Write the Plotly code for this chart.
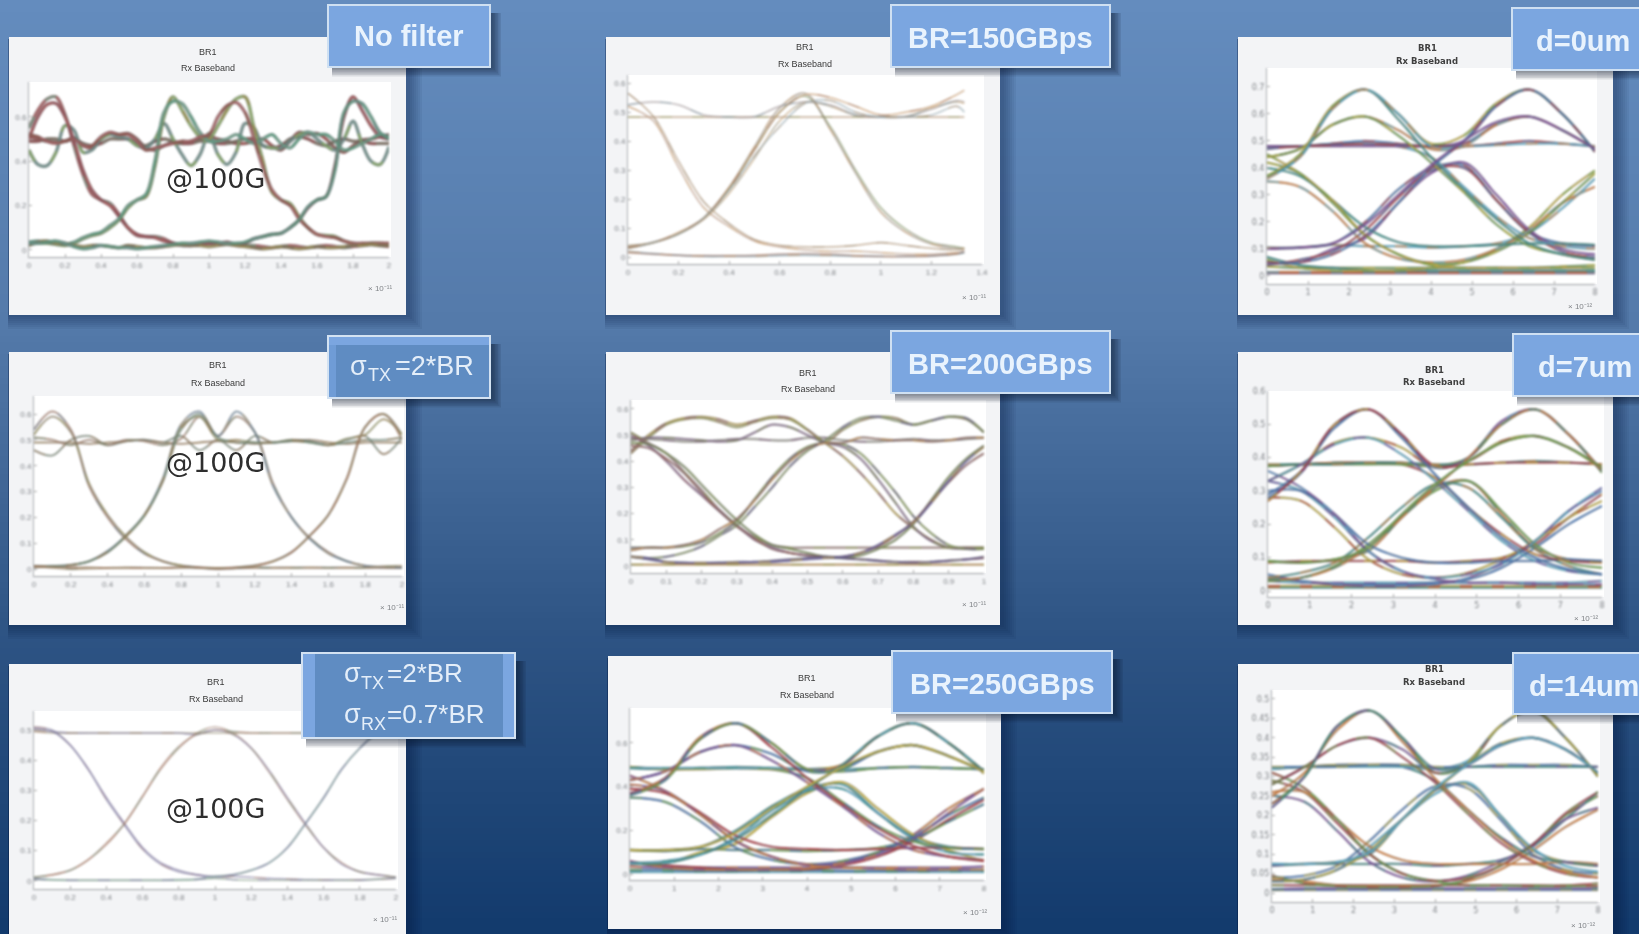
import plotly.graph_objects as go

W, H = 1639, 934

# ---------- tick labels ----------
X_2 = [0, .2, .4, .6, .8, 1, 1.2, 1.4, 1.6, 1.8, 2]
X_2T = ["0", "0.2", "0.4", "0.6", "0.8", "1", "1.2", "1.4", "1.6", "1.8", "2"]
X_14 = [0, .2, .4, .6, .8, 1, 1.2, 1.4]
X_14T = ["0", "0.2", "0.4", "0.6", "0.8", "1", "1.2", "1.4"]
X_1 = [0, .1, .2, .3, .4, .5, .6, .7, .8, .9, 1]
X_1T = ["0", "0.1", "0.2", "0.3", "0.4", "0.5", "0.6", "0.7", "0.8", "0.9", "1"]
X_8 = [0, 1, 2, 3, 4, 5, 6, 7, 8]
X_8T = ["0", "1", "2", "3", "4", "5", "6", "7", "8"]
Y_246 = [0, .2, .4, .6]
Y_246T = ["0", "0.2", "0.4", "0.6"]
Y_06 = [0, .1, .2, .3, .4, .5, .6]
Y_06T = ["0", "0.1", "0.2", "0.3", "0.4", "0.5", "0.6"]
Y_05 = [0, .1, .2, .3, .4, .5]
Y_05T = ["0", "0.1", "0.2", "0.3", "0.4", "0.5"]
Y_07 = [0, .1, .2, .3, .4, .5, .6, .7]
Y_07T = ["0", "0.1", "0.2", "0.3", "0.4", "0.5", "0.6", "0.7"]
Y_9 = [0, .05, .1, .15, .2, .25, .3, .35, .4, .45, .5]
Y_9T = ["0", "0.05", "0.1", "0.15", "0.2", "0.25", "0.3", "0.35", "0.4", "0.45", "0.5"]

# ---------- panel 1: no filter (time axis in 1e-11 s) ----------
t1 = [i * .05 for i in range(41)]
p1_100 = [.55,.63,.68,.69,.61,.47,.34,.25,.225,.21,.16,.10,.065,.06,.06,.05,.03,.02,.02,.025,.03,.03,.03,.02,.02,.02,.015,.01,.015,.02,.015,.01,.015,.02,.015,.01,.015,.02,.025,.02,.015]
p1_101 = [.50,.60,.655,.66,.60,.49,.36,.27,.225,.20,.15,.10,.07,.06,.055,.04,.03,.025,.02,.025,.03,.03,.035,.025,.03,.05,.06,.07,.075,.10,.135,.19,.225,.24,.38,.60,.69,.63,.56,.51,.50]
p1_010 = [.03,.03,.03,.025,.02,.03,.05,.065,.075,.10,.135,.19,.225,.24,.38,.60,.69,.63,.56,.51,.50,.56,.63,.68,.69,.55,.40,.26,.225,.21,.15,.10,.07,.065,.06,.04,.03,.025,.03,.03,.025]
p1_011 = [.035,.04,.035,.03,.025,.035,.055,.07,.08,.11,.14,.20,.225,.25,.40,.62,.67,.66,.60,.53,.49,.49,.50,.52,.50,.48,.50,.52,.48,.46,.50,.53,.52,.52,.49,.45,.46,.48,.50,.52,.51]
p1_110 = [.52,.51,.49,.48,.49,.50,.47,.47,.51,.53,.52,.52,.49,.45,.46,.47,.48,.49,.49,.51,.52,.60,.65,.665,.62,.50,.37,.27,.225,.20,.14,.10,.07,.06,.055,.04,.03,.03,.03,.03,.03]
p1_111 = [.51,.50,.49,.485,.49,.505,.47,.46,.50,.525,.52,.525,.50,.46,.45,.47,.485,.48,.49,.50,.51,.50,.49,.48,.48,.49,.50,.47,.45,.49,.53,.52,.525,.50,.46,.44,.47,.495,.50,.51,.52]
p1_w1 = [.45,.385,.38,.44,.56,.54,.44,.45,.50,.52,.51,.50,.47,.46,.50,.57,.50,.43,.38,.43,.525,.43,.385,.44,.57,.55,.47,.46,.46,.49,.52,.53,.50,.47,.45,.50,.58,.48,.40,.385,.465]
p1_w2 = [.49,.49,.50,.50,.49,.50,.48,.47,.48,.50,.50,.50,.48,.47,.49,.50,.49,.48,.48,.49,.49,.48,.48,.49,.50,.50,.47,.46,.47,.50,.51,.50,.48,.47,.49,.50,.49,.49,.48,.48,.48]
p1_000 = [.02,.035,.04,.03,.03,.02,.015,.02,.02,.015,.01,.02,.015,.01,.01,.015,.02,.025,.02,.02,.015,.02,.025,.02,.015,.01,.005,.01,.015,.01,.005,.01,.015,.01,.01,.015,.02,.02,.025,.02,.02]
p1_001 = [.03,.03,.035,.04,.03,.015,.005,.01,.02,.015,.01,.01,.005,.01,.015,.02,.025,.03,.03,.035,.04,.035,.03,.03,.035,.05,.06,.07,.075,.10,.135,.195,.225,.24,.36,.62,.67,.66,.60,.53,.50]
p1_curves = [p1_111, p1_w2, p1_w1, p1_100, p1_101, p1_010, p1_011, p1_110, p1_000, p1_001]
p1_colors = ["#8a5a50", "#7a6a5a", "#6f8f88", "#a85a5a", "#9a4f55", "#8aa860", "#6f9f88", "#a86060", "#9a8a50", "#5f9a80"]

# ---------- panel 2: sigma_TX = 2*BR ----------
t2 = [i * .1 for i in range(21)]
p2_100 = [.54,.61,.54,.32,.20,.115,.06,.03,.012,.005,.0,.003,.005,.005,.006,.005,.005,.006,.005,.005,.006]
p2_101 = [.52,.59,.53,.33,.21,.125,.065,.03,.014,.006,.002,.006,.014,.03,.065,.13,.21,.35,.55,.60,.52]
p2_110 = [.51,.50,.48,.50,.48,.50,.495,.48,.505,.59,.515,.59,.53,.33,.20,.12,.065,.03,.012,.006,.004]
p2_111 = [.49,.49,.49,.485,.49,.495,.50,.49,.485,.49,.495,.49,.485,.49,.495,.50,.49,.485,.49,.49,.49]
p2_w1 = [.46,.44,.50,.515,.48,.495,.50,.49,.515,.46,.50,.46,.515,.49,.50,.495,.48,.50,.515,.445,.51]
p2_010 = [.006,.01,.016,.03,.07,.13,.21,.35,.56,.61,.515,.61,.53,.32,.20,.115,.06,.03,.012,.008,.006]
p2_011 = [.008,.01,.015,.03,.065,.125,.205,.34,.55,.59,.50,.50,.49,.49,.50,.49,.48,.505,.52,.58,.52]
p2_001 = [.012,.012,.015,.03,.065,.13,.21,.34,.54,.60,.51,.49,.49,.49,.495,.49,.48,.49,.50,.50,.51]
p2_000 = [.01,.005,.0,.002,.004,.006,.005,.004,.006,.005,.004,.005,.006,.005,.004,.006,.005,.004,.005,.01,.012]
p2_001b = [.01,.008,.006,.006,.004,.004,.004,.004,.006,.006,.004,.006,.012,.03,.065,.13,.21,.35,.55,.60,.50]
p2_curves = [p2_111, p2_w1, p2_100, p2_101, p2_110, p2_010, p2_011, p2_001, p2_000, p2_001b]
p2_colors = ["#a07a50", "#7a8a70", "#b07a60", "#a08a60", "#b08060", "#6f8aa0", "#a0a060", "#7a9a80", "#c0a070", "#b08a60"]

# ---------- panel 3: sigma_TX = 2*BR, sigma_RX = 0.7*BR ----------
t3 = [i * .1 for i in range(21)]
p3_100 = [.51,.50,.45,.37,.27,.185,.105,.055,.03,.02,.012,.015,.012,.008,.006,.004,.003,.003,.003,.005,.008]
p3_101 = [.505,.495,.45,.37,.275,.19,.11,.06,.035,.02,.015,.02,.035,.06,.11,.19,.275,.37,.44,.49,.50]
p3_010 = [.012,.02,.035,.07,.12,.19,.28,.37,.44,.49,.51,.49,.44,.36,.27,.185,.11,.06,.03,.02,.012]
p3_011 = [.012,.02,.035,.07,.125,.19,.28,.375,.445,.485,.50,.495,.49,.49,.49,.49,.49,.49,.49,.49,.49]
p3_110 = [.50,.495,.49,.49,.49,.49,.49,.49,.49,.485,.50,.485,.44,.365,.275,.19,.11,.055,.03,.02,.012]
p3_111 = [.495,.49,.49,.49,.49,.49,.49,.49,.49,.49,.49,.49,.49,.49,.49,.49,.49,.49,.49,.49,.49]
p3_000 = [.005,.003,.002,.002,.002,.002,.002,.002,.002,.004,.008,.004,.002,.002,.002,.002,.002,.002,.002,.006,.01]
p3_001 = [.008,.004,.002,.002,.002,.002,.002,.002,.004,.006,.015,.02,.035,.06,.11,.19,.275,.37,.44,.49,.50]
p3_curves = [p3_111, p3_100, p3_101, p3_010, p3_011, p3_110, p3_000, p3_001]
p3_colors = ["#a89a70", "#8a80b0", "#8a80b0", "#c08a70", "#c08a70", "#8a80b0", "#90b090", "#80b0a0"]

# ---------- panel 4: BR = 150 GBps ----------
t4 = [0, .1, .2, .3, .4, .5, .6, .7, .8, .9, 1.0, 1.1, 1.2, 1.3, 1.33]
p4_a = [.565,.485,.33,.19,.115,.06,.04,.035,.035,.04,.05,.04,.03,.025,.025]
p4_b = [.52,.47,.31,.17,.105,.055,.035,.025,.02,.02,.015,.01,.01,.015,.015]
p4_c = [.035,.05,.08,.135,.235,.37,.50,.555,.45,.30,.17,.095,.05,.035,.03]
p4_d = [.03,.05,.08,.135,.24,.38,.515,.565,.44,.29,.155,.085,.045,.03,.03]
p4_e = [.04,.05,.08,.13,.22,.34,.47,.535,.52,.49,.483,.485,.515,.535,.53]
p4_f = [.525,.535,.525,.49,.483,.484,.52,.535,.525,.49,.483,.485,.51,.54,.535]
p4_g = [.483,.483,.483,.483,.483,.483,.483,.483,.483,.483,.483,.483,.483,.483,.483]
p4_h = [.035,.05,.085,.135,.24,.37,.50,.56,.55,.52,.49,.50,.52,.56,.575]
p4_i = [.03,.05,.08,.135,.23,.35,.45,.53,.54,.50,.483,.483,.49,.52,.50]
p4_j = [.02,.012,.006,.002,.002,.002,.005,.006,.005,.003,.002,.002,.004,.01,.015]
p4_k = [.015,.01,.006,.005,.005,.006,.01,.012,.01,.005,.002,.002,.004,.012,.02]
p4_curves = [p4_g, p4_a, p4_b, p4_c, p4_d, p4_e, p4_f, p4_h, p4_i, p4_j, p4_k]
p4_colors = ["#c09060", "#c09a70", "#d0a080", "#8aa060", "#a08a70", "#e0b070", "#b0a0a0", "#e0a060", "#a0b8c0", "#7aa0b0", "#a07060"]

# ---------- panel 5: BR = 200 GBps ----------
t5 = [i * .05 for i in range(21)]
p5_a = [.44,.50,.545,.565,.57,.56,.54,.555,.57,.565,.52,.47,.42,.355,.28,.20,.145,.10,.07,.07,.07]
p5_b = [.43,.49,.54,.56,.565,.55,.53,.55,.565,.56,.52,.475,.52,.555,.57,.565,.54,.555,.57,.56,.51]
p5_c = [.48,.49,.49,.485,.48,.475,.48,.51,.54,.53,.50,.47,.455,.41,.33,.24,.15,.095,.07,.065,.065]
p5_d = [.49,.485,.48,.475,.475,.48,.485,.485,.48,.48,.49,.49,.48,.475,.475,.48,.485,.48,.48,.485,.49]
p5_e = [.50,.46,.40,.33,.27,.21,.155,.10,.07,.05,.04,.035,.03,.025,.02,.015,.015,.015,.02,.025,.03]
p5_f = [.51,.47,.43,.36,.29,.215,.155,.11,.08,.07,.07,.07,.07,.07,.07,.07,.07,.07,.07,.07,.07]
p5_g = [.47,.465,.43,.38,.31,.24,.175,.12,.08,.065,.05,.035,.03,.04,.065,.10,.16,.25,.34,.41,.46]
p5_h = [.46,.45,.41,.355,.28,.21,.15,.105,.065,.05,.04,.035,.035,.05,.075,.115,.17,.245,.32,.385,.43]
p5_i = [.07,.07,.07,.075,.09,.125,.17,.255,.34,.41,.455,.47,.465,.43,.36,.28,.19,.125,.08,.065,.065]
p5_j = [.035,.03,.035,.05,.075,.115,.155,.225,.30,.38,.44,.48,.53,.565,.57,.555,.54,.555,.57,.565,.51]
p5_k = [.06,.07,.07,.08,.10,.14,.18,.25,.33,.40,.45,.47,.47,.49,.485,.48,.48,.475,.48,.49,.49]
p5_l = [.035,.025,.015,.012,.01,.012,.015,.015,.02,.025,.03,.035,.03,.025,.02,.015,.012,.015,.02,.025,.035]
p5_m = [.035,.03,.015,.012,.012,.012,.012,.015,.015,.02,.025,.03,.035,.05,.08,.12,.165,.24,.325,.40,.455]
p5_n = [.005,.005,.005,.005,.005,.005,.005,.005,.005,.005,.005,.005,.005,.005,.005,.005,.005,.005,.005,.005,.005]
p5_curves = [p5_d, p5_a, p5_b, p5_c, p5_e, p5_f, p5_g, p5_h, p5_i, p5_j, p5_k, p5_l, p5_m, p5_n]
p5_colors = ["#a09a8a", "#c0a040", "#a0a050", "#8a6a8a", "#8a5a80", "#a07a70", "#7a8a50", "#a06a70", "#8aa050", "#8a9a60", "#a07060", "#6a5a90", "#6a5aa0", "#d09a50"]

# ---------- panels 6-9 share a time grid (1e-12 s) ----------
t_eye = [0, .8, 1.6, 2.4, 3.2, 4, 4.8, 5.6, 6.4, 7.2, 8]

# panel 6: BR = 250 GBps
p6_01 = [.36,.43,.62,.69,.60,.48,.47,.485,.49,.485,.48]
p6_02 = [.37,.44,.63,.69,.60,.48,.50,.63,.69,.60,.47]
p6_03 = [.37,.44,.62,.69,.58,.44,.32,.21,.13,.08,.06]
p6_04 = [.43,.47,.56,.59,.52,.42,.31,.19,.11,.08,.065]
p6_05 = [.43,.47,.56,.59,.55,.47,.48,.56,.59,.54,.47]
p6_06 = [.485,.485,.485,.485,.485,.48,.48,.485,.49,.485,.48]
p6_07 = [.49,.48,.48,.485,.48,.48,.50,.63,.69,.60,.46]
p6_08 = [.485,.48,.485,.49,.485,.48,.49,.56,.59,.54,.47]
p6_09 = [.49,.48,.485,.485,.48,.44,.33,.22,.15,.12,.115]
p6_10 = [.45,.38,.27,.15,.08,.04,.03,.025,.02,.02,.02]
p6_11 = [.39,.37,.28,.175,.125,.115,.11,.115,.12,.12,.115]
p6_12 = [.41,.38,.27,.15,.08,.045,.05,.09,.16,.28,.39]
p6_13 = [.35,.33,.24,.12,.065,.045,.06,.10,.17,.27,.35]
p6_14 = [.05,.06,.09,.17,.29,.38,.39,.28,.16,.10,.09]
p6_15 = [.05,.05,.10,.14,.26,.37,.42,.30,.18,.11,.06]
p6_16 = [.11,.11,.125,.20,.31,.39,.41,.28,.17,.125,.115]
p6_17 = [.11,.105,.115,.11,.11,.105,.11,.12,.16,.24,.32]
p6_18 = [.06,.03,.02,.02,.02,.025,.05,.10,.18,.30,.39]
p6_19 = [.05,.04,.03,.02,.02,.02,.04,.08,.15,.25,.34]
p6_20 = [.035,.03,.03,.03,.03,.03,.03,.03,.03,.03,.035]
p6_21 = [.02,.02,.015,.015,.02,.02,.015,.015,.015,.02,.02]
p6_22 = [.01,.01,.01,.01,.01,.01,.01,.01,.01,.01,.01]
p6_23 = [.05,.05,.09,.16,.27,.39,.50,.63,.69,.60,.47]
p6_24 = [.11,.11,.125,.19,.30,.40,.49,.56,.59,.54,.47]
p6_curves = [p6_22, p6_21, p6_20, p6_19, p6_18, p6_17, p6_16, p6_15, p6_14, p6_13, p6_12, p6_11, p6_10, p6_09, p6_08, p6_07, p6_06, p6_05, p6_04, p6_03, p6_02, p6_01, p6_23, p6_24]

# panel 7: d = 0 um
p7_01 = [.36,.44,.62,.69,.60,.48,.48,.485,.49,.49,.48]
p7_02 = [.37,.45,.63,.69,.60,.49,.52,.64,.69,.60,.46]
p7_03 = [.37,.44,.62,.69,.58,.44,.32,.21,.12,.08,.06]
p7_04 = [.44,.47,.56,.59,.52,.42,.31,.19,.11,.08,.06]
p7_05 = [.44,.47,.56,.59,.54,.47,.48,.56,.59,.54,.47]
p7_06 = [.47,.48,.485,.49,.485,.48,.48,.49,.50,.49,.48]
p7_07 = [.48,.48,.48,.48,.48,.48,.50,.63,.69,.60,.46]
p7_08 = [.48,.48,.49,.50,.49,.48,.49,.56,.59,.54,.47]
p7_09 = [.48,.48,.49,.49,.48,.44,.33,.22,.14,.11,.10]
p7_10 = [.45,.38,.28,.15,.08,.04,.03,.03,.03,.03,.03]
p7_11 = [.40,.37,.28,.18,.125,.11,.11,.115,.12,.12,.115]
p7_12 = [.42,.38,.27,.15,.08,.045,.05,.09,.16,.27,.38]
p7_13 = [.35,.33,.24,.12,.065,.05,.06,.10,.17,.27,.33]
p7_14 = [.04,.06,.09,.17,.29,.39,.40,.28,.16,.09,.07]
p7_15 = [.05,.05,.10,.14,.27,.38,.42,.30,.17,.10,.08]
p7_16 = [.10,.105,.12,.20,.32,.40,.41,.28,.16,.12,.11]
p7_17 = [.105,.105,.115,.11,.11,.105,.11,.12,.16,.25,.36]
p7_18 = [.06,.03,.02,.02,.02,.03,.05,.10,.18,.30,.39]
p7_19 = [.07,.04,.03,.02,.02,.02,.02,.02,.02,.02,.02]
p7_20 = [.035,.03,.03,.03,.03,.03,.03,.03,.03,.035,.04]
p7_21 = [.015,.015,.015,.015,.015,.015,.015,.015,.015,.015,.015]
p7_22 = [.01,.01,.01,.01,.01,.01,.01,.01,.01,.01,.01]
p7_23 = [.05,.05,.08,.15,.27,.40,.50,.63,.69,.60,.46]
p7_24 = [.10,.105,.12,.19,.30,.41,.50,.57,.59,.54,.47]
p7_curves = [p7_22, p7_21, p7_20, p7_19, p7_18, p7_17, p7_16, p7_15, p7_14, p7_13, p7_12, p7_11, p7_10, p7_09, p7_08, p7_07, p7_06, p7_05, p7_04, p7_03, p7_02, p7_01, p7_23, p7_24]

# panel 8: d = 7 um
p8_01 = [.27,.36,.50,.545,.47,.375,.38,.385,.385,.385,.38]
p8_02 = [.28,.355,.50,.545,.47,.37,.40,.51,.545,.47,.36]
p8_03 = [.29,.36,.49,.545,.46,.35,.25,.16,.10,.065,.05]
p8_04 = [.33,.38,.44,.46,.41,.33,.24,.15,.09,.06,.05]
p8_05 = [.33,.38,.445,.46,.43,.37,.39,.45,.465,.43,.365]
p8_06 = [.38,.38,.38,.385,.385,.38,.38,.385,.39,.385,.38]
p8_07 = [.375,.38,.38,.38,.38,.375,.40,.50,.545,.47,.355]
p8_08 = [.375,.38,.385,.385,.385,.375,.39,.445,.465,.43,.37]
p8_09 = [.375,.38,.385,.385,.38,.34,.25,.17,.11,.09,.085]
p8_10 = [.36,.31,.23,.12,.06,.035,.025,.025,.02,.02,.02]
p8_11 = [.30,.30,.23,.14,.10,.085,.085,.09,.09,.095,.09]
p8_12 = [.33,.30,.22,.12,.06,.04,.05,.08,.15,.24,.31]
p8_13 = [.28,.27,.19,.095,.05,.04,.055,.095,.15,.22,.27]
p8_14 = [.04,.055,.085,.16,.25,.32,.31,.22,.125,.075,.05]
p8_15 = [.03,.04,.075,.14,.225,.30,.33,.24,.14,.085,.07]
p8_16 = [.09,.085,.095,.12,.22,.31,.33,.23,.13,.095,.09]
p8_17 = [.085,.09,.09,.09,.09,.085,.09,.10,.14,.22,.29]
p8_18 = [.05,.03,.02,.015,.015,.02,.04,.085,.15,.24,.30]
p8_19 = [.04,.03,.02,.02,.02,.025,.035,.07,.13,.20,.255]
p8_20 = [.03,.025,.025,.025,.025,.025,.025,.025,.025,.025,.03]
p8_21 = [.015,.015,.015,.015,.015,.015,.015,.015,.015,.015,.015]
p8_22 = [.01,.01,.01,.01,.01,.01,.01,.01,.01,.01,.01]
p8_23 = [.035,.04,.07,.13,.22,.31,.40,.50,.545,.47,.36]
p8_24 = [.09,.085,.095,.13,.23,.32,.39,.445,.465,.43,.37]
p8_curves = [p8_22, p8_21, p8_20, p8_19, p8_18, p8_17, p8_16, p8_15, p8_14, p8_13, p8_12, p8_11, p8_10, p8_09, p8_08, p8_07, p8_06, p8_05, p8_04, p8_03, p8_02, p8_01, p8_23, p8_24]

# panel 9: d = 14 um
p9_01 = [.22,.30,.43,.47,.40,.32,.325,.325,.325,.325,.325]
p9_02 = [.23,.30,.43,.47,.40,.31,.33,.43,.47,.40,.30]
p9_03 = [.25,.31,.42,.47,.39,.295,.215,.14,.085,.055,.04]
p9_04 = [.28,.325,.38,.40,.35,.285,.205,.13,.08,.05,.04]
p9_05 = [.28,.325,.38,.40,.37,.31,.33,.38,.40,.37,.31]
p9_06 = [.325,.325,.325,.33,.33,.325,.325,.33,.33,.33,.325]
p9_07 = [.32,.325,.325,.325,.325,.32,.34,.43,.47,.40,.30]
p9_08 = [.32,.325,.33,.33,.33,.32,.335,.385,.40,.37,.31]
p9_09 = [.32,.325,.33,.33,.325,.29,.215,.145,.095,.08,.07]
p9_10 = [.31,.27,.19,.10,.05,.03,.02,.02,.018,.018,.018]
p9_11 = [.26,.26,.19,.12,.085,.075,.075,.075,.075,.08,.075]
p9_12 = [.29,.26,.18,.10,.05,.032,.04,.07,.125,.205,.26]
p9_13 = [.25,.235,.16,.08,.04,.03,.045,.08,.125,.19,.22]
p9_14 = [.04,.045,.07,.135,.215,.275,.27,.19,.10,.06,.05]
p9_15 = [.03,.035,.06,.12,.19,.255,.285,.20,.115,.07,.055]
p9_16 = [.075,.075,.08,.10,.19,.265,.28,.20,.11,.08,.07]
p9_17 = [.07,.075,.075,.075,.075,.07,.075,.085,.12,.19,.26]
p9_18 = [.045,.025,.018,.015,.015,.018,.035,.07,.125,.20,.25]
p9_19 = [.035,.03,.02,.018,.018,.02,.03,.06,.11,.17,.215]
p9_20 = [.02,.02,.02,.02,.02,.02,.02,.02,.02,.02,.025]
p9_21 = [.01,.012,.012,.012,.012,.012,.012,.012,.012,.012,.012]
p9_22 = [.008,.008,.008,.008,.008,.008,.008,.008,.008,.008,.008]
p9_23 = [.03,.035,.06,.11,.19,.265,.335,.43,.47,.40,.30]
p9_24 = [.075,.075,.08,.105,.19,.27,.33,.38,.40,.37,.31]
p9_curves = [p9_22, p9_21, p9_20, p9_19, p9_18, p9_17, p9_16, p9_15, p9_14, p9_13, p9_12, p9_11, p9_10, p9_09, p9_08, p9_07, p9_06, p9_05, p9_04, p9_03, p9_02, p9_01, p9_23, p9_24]

# ---------- colours ----------
PALETTE = ["#4a78b5", "#d9823f", "#c9b23c", "#80509f", "#6fa34a", "#58b0cf", "#b23c44", "#3f8f86"]
BG_Y = [0, 320, 630, 934]
BG_R = [100, 84, 46, 18]
BG_G = [140, 122, 84, 58]
BG_B = [190, 170, 132, 108]

# card, plot area and data ranges, all in page pixels
PANELS = [
    dict(card=(9, 37, 406, 315), px=(29, 389), py=(82, 257), xr=(0, 2), yr=(-.032, .757), xt=X_2, xl=X_2T, yt=Y_246, yl=Y_246T,
         t=t1, c=p1_curves, pal=p1_colors, lw=2.8, op=.8, dk=.55, title=(208, 52, 68), mult=(380, 288, "× 10⁻¹¹"), narrow=True),
    dict(card=(9, 352, 406, 625), px=(34, 402), py=(396, 576), xr=(0, 2), yr=(-.027, .67), xt=X_2, xl=X_2T, yt=Y_06, yl=Y_06T,
         t=t2, c=p2_curves, pal=p2_colors, lw=1.4, op=.65, dk=.4, title=(218, 365, 383), mult=(392, 607, "× 10⁻¹¹"), narrow=True),
    dict(card=(9, 664, 406, 940), px=(34, 396), py=(711, 889), xr=(0, 2), yr=(-.027, .563), xt=X_2, xl=X_2T, yt=Y_05, yl=Y_05T,
         t=t3, c=p3_curves, pal=p3_colors, lw=1.2, op=.6, dk=.2, title=(216, 682, 699), mult=(385, 919, "× 10⁻¹¹"), narrow=True),
    dict(card=(606, 37, 1000, 315), px=(628, 982), py=(75, 264), xr=(0, 1.4), yr=(-.024, .628), xt=X_14, xl=X_14T, yt=Y_06, yl=Y_06T,
         t=t4, c=p4_curves, pal=p4_colors, lw=1.2, op=.6, dk=.2, title=(805, 47, 64), mult=(974, 298, "× 10⁻¹¹"), narrow=True),
    dict(card=(606, 352, 1000, 625), px=(631, 984), py=(400, 573), xr=(0, 1), yr=(-.027, .634), xt=X_1, xl=X_1T, yt=Y_06, yl=Y_06T,
         t=t5, c=p5_curves, pal=p5_colors, lw=1.6, op=.7, dk=.5, title=(808, 373, 389), mult=(974, 604, "× 10⁻¹¹"), narrow=True),
    dict(card=(608, 656, 1001, 929), px=(630, 984), py=(708, 880), xr=(0, 8), yr=(-.027, .76), xt=X_8, xl=X_8T, yt=Y_246, yl=Y_246T,
         t=t_eye, c=p6_curves, pal=PALETTE, lw=1.7, op=.8, dk=.55, title=(807, 678, 695), mult=(975, 912, "× 10⁻¹²"), narrow=True),
    dict(card=(1238, 37, 1613, 315), px=(1267, 1595), py=(68, 284), xr=(0, 8), yr=(-.03, .77), xt=X_8, xl=X_8T, yt=Y_07, yl=Y_07T,
         t=t_eye, c=p7_curves, pal=PALETTE, lw=1.6, op=.8, dk=.55, title=(1427, 48, 61), mult=(1580, 306, "× 10⁻¹²"), narrow=False),
    dict(card=(1238, 352, 1613, 625), px=(1268, 1602), py=(391, 597), xr=(0, 8), yr=(-.018, .6), xt=X_8, xl=X_8T, yt=Y_06, yl=Y_06T,
         t=t_eye, c=p8_curves, pal=PALETTE, lw=1.6, op=.8, dk=.55, title=(1434, 370, 382), mult=(1586, 618, "× 10⁻¹²"), narrow=False),
    dict(card=(1238, 664, 1613, 940), px=(1272, 1598), py=(690, 902), xr=(0, 8), yr=(-.023, .523), xt=X_8, xl=X_8T, yt=Y_9, yl=Y_9T,
         t=t_eye, c=p9_curves, pal=PALETTE, lw=1.6, op=.8, dk=.55, title=(1434, 669, 682), mult=(1583, 925, "× 10⁻¹²"), narrow=False),
]

LABELS = [
    dict(box=(328, 5, 490, 67), text="No filter", at=(409, 36), size=29),
    dict(box=(891, 5, 1110, 67), text="BR=150GBps", at=(1000, 38), size=29),
    dict(box=(891, 331, 1110, 393), text="BR=200GBps", at=(1000, 364), size=29),
    dict(box=(892, 651, 1112, 713), text="BR=250GBps", at=(1002, 684), size=29),
    dict(box=(1512, 8, 1660, 70), text="d=0um", at=(1583, 41), size=29),
    dict(box=(1513, 334, 1660, 396), text="d=7um", at=(1585, 367), size=29),
    dict(box=(1513, 653, 1660, 714), text="d=14um", at=(1584, 686), size=29),
]
AT_100G = [(216, 178), (216, 463), (216, 808)]

def fx(p):
    return p / W

def fy(p):
    return 1 - p / H

def rect(x0, y0, x1, y1, fill, layer="below", line=None, width=0):
    return dict(type="rect", xref="paper", yref="paper", x0=fx(x0), x1=fx(x1), y0=fy(y0), y1=fy(y1),
                fillcolor=fill, layer=layer, line=dict(color=line or "rgba(0,0,0,0)", width=width))

def text(x, y, s, size, color, family="Liberation Sans", anchor="center", weight=None):
    font = dict(size=size, color=color, family=family)
    if weight:
        font["weight"] = weight
    return dict(xref="paper", yref="paper", x=fx(x), y=fy(y), text=s, showarrow=False, xanchor=anchor, yanchor="middle",
                font=font, align="left")

shapes, annos = [], []

def lerp(v, xs, ys):
    for i in range(len(xs) - 1):
        if v <= xs[i + 1]:
            f = (v - xs[i]) / (xs[i + 1] - xs[i])
            return ys[i] + f * (ys[i + 1] - ys[i])
    return ys[-1]

# page background gradient: overlapping bands so no seam shows
for y in range(0, H, 6):
    col = f"rgb({lerp(y, BG_Y, BG_R):.0f},{lerp(y, BG_Y, BG_G):.0f},{lerp(y, BG_Y, BG_B):.0f})"
    shapes.append(rect(-2, y, W + 2, H + 2, col))

fig = go.Figure()

for i, p in enumerate(PANELS):
    n = "" if i == 0 else str(i + 1)
    x0, y0, x1, y1 = p["card"]
    for k in range(1, 8):
        shapes.append(rect(x0 - 1, y0 + 2, x1 + 2 * k + 2, y1 + 2 * k, "rgba(8,25,60,0.055)"))
    shapes.append(rect(x0, y0, x1, y1, "#f3f4f6"))
    shapes.append(rect(p["px"][0], p["py"][0], p["px"][1] + 2, p["py"][1], "#ffffff"))
    tick_family = "Liberation Sans" if p["narrow"] else "DejaVu Sans"
    fig.layout[f"xaxis{n}"] = dict(
        domain=[fx(p["px"][0]), fx(p["px"][1])], range=list(p["xr"]), anchor=f"y{n}", tickvals=p["xt"], ticktext=p["xl"], automargin=False,
        showgrid=False, zeroline=False, showline=True, linecolor="#a0a3a6", linewidth=1, ticks="inside", ticklen=3, tickcolor="#a8a8a8",
        tickfont=dict(size=8, color="#808488", family=tick_family))
    fig.layout[f"yaxis{n}"] = dict(
        domain=[fy(p["py"][1]), fy(p["py"][0])], range=list(p["yr"]), anchor=f"x{n}", tickvals=p["yt"], ticktext=p["yl"], automargin=False,
        showgrid=False, zeroline=False, showline=True, linecolor="#b0b3b6", linewidth=1, ticks="inside", ticklen=3, tickcolor="#a8a8a8",
        tickfont=dict(size=8, color="#808488", family=tick_family))
    pal = p["pal"]
    for j, curve in enumerate(p["c"]):
        if pal is PALETTE:
            c1 = pal[(j * 3 + i) % len(pal)]
            c2 = pal[(j * 5 + i + 2) % len(pal)]
        else:
            c1 = pal[j % len(pal)]
            c2 = pal[(j + 3) % len(pal)]
        base = dict(x=p["t"], y=curve, xaxis=f"x{n}", yaxis=f"y{n}", mode="lines", hoverinfo="skip", showlegend=False)
        fig.add_trace(go.Scatter(**base, opacity=p["dk"], line=dict(color="#555a62", width=p["lw"] + .8, shape="spline", smoothing=1)))
        fig.add_trace(go.Scatter(**base, opacity=p["op"], line=dict(color=c1, width=p["lw"], shape="spline", smoothing=1)))
        fig.add_trace(go.Scatter(**base, opacity=p["op"], line=dict(color=c2, width=p["lw"] * .8, shape="spline", smoothing=1, dash="12px,20px")))
    tx, ty1, ty2 = p["title"]
    if p["narrow"]:
        annos.append(text(tx, ty1, "BR1", 9, "#3a3a3a", "Liberation Sans Narrow, Liberation Sans"))
        annos.append(text(tx, ty2, "Rx Baseband", 9, "#3a3a3a", "Liberation Sans Narrow, Liberation Sans"))
    else:
        annos.append(text(tx, ty1, "BR1", 8.5, "#404040", "DejaVu Sans", weight=700))
        annos.append(text(tx, ty2, "Rx Baseband", 8.5, "#404040", "DejaVu Sans", weight=700))
    annos.append(text(p["mult"][0], p["mult"][1], p["mult"][2], 8, "#808488"))

def shadow(b):
    for k in range(1, 7):
        shapes.append(rect(b[0] + 4, b[1] + 8, b[2] + 2 + 1.5 * k, b[3] + 1.6 * k, "rgba(5,15,40,0.10)", layer="above"))

for lab in LABELS:
    b = lab["box"]
    shadow(b)
    shapes.append(rect(*b, "#7ba6e0", layer="above", line="#cfe0f2", width=2))
    annos.append(text(lab["at"][0], lab["at"][1], lab["text"], lab["size"], "#e9f3fd", weight=700))

SIG = "#e4eef9"

b = (328, 336, 490, 398)
shadow(b)
shapes.append(rect(*b, "#5f8cc2", layer="above", line="#d3e2f2", width=2))
shapes.append(rect(329, 337, 489, 345, "#7ba6e0", layer="above"))
shapes.append(rect(329, 345, 336, 397, "#6f9cd6", layer="above"))
annos.append(text(348, 366, "σ", 27, SIG, anchor="left"))
annos.append(text(366, 375, "TX", 18, SIG, anchor="left"))
annos.append(text(393, 366, "=2*BR", 27, SIG, anchor="left"))

b = (302, 653, 515, 738)
shadow(b)
shapes.append(rect(*b, "#5f8cc2", layer="above", line="#d3e2f2", width=2))
shapes.append(rect(303, 654, 315, 737, "#7ba6e0", layer="above"))
shapes.append(rect(503, 654, 514, 737, "#7ba6e0", layer="above"))
annos.append(text(342, 673, "σ", 27, SIG, anchor="left"))
annos.append(text(359, 683, "TX", 18, SIG, anchor="left"))
annos.append(text(385, 673, "=2*BR", 26, SIG, anchor="left"))
annos.append(text(342, 714, "σ", 27, SIG, anchor="left"))
annos.append(text(359, 724, "RX", 18, SIG, anchor="left"))
annos.append(text(385, 714, "=0.7*BR", 26, SIG, anchor="left"))

for (x, y) in AT_100G:
    annos.append(text(x, y, "@100G", 27, "#2e2e2e", "DejaVu Sans"))

fig.update_layout(width=W, height=H, autosize=False, margin=dict(l=0, r=0, t=0, b=0, pad=0), showlegend=False,
                  paper_bgcolor="rgba(0,0,0,0)", plot_bgcolor="rgba(0,0,0,0)", shapes=shapes, annotations=annos)

fig.write_html("out.html", config=dict(displayModeBar=False),
               post_script=("document.body.style.margin='0';document.body.style.overflow='hidden';"
                            "document.querySelectorAll('.cartesianlayer').forEach(e=>e.style.filter='blur(0.8px)');"
                            "document.querySelectorAll('.infolayer').forEach(e=>e.style.filter='blur(0.5px)');"))
